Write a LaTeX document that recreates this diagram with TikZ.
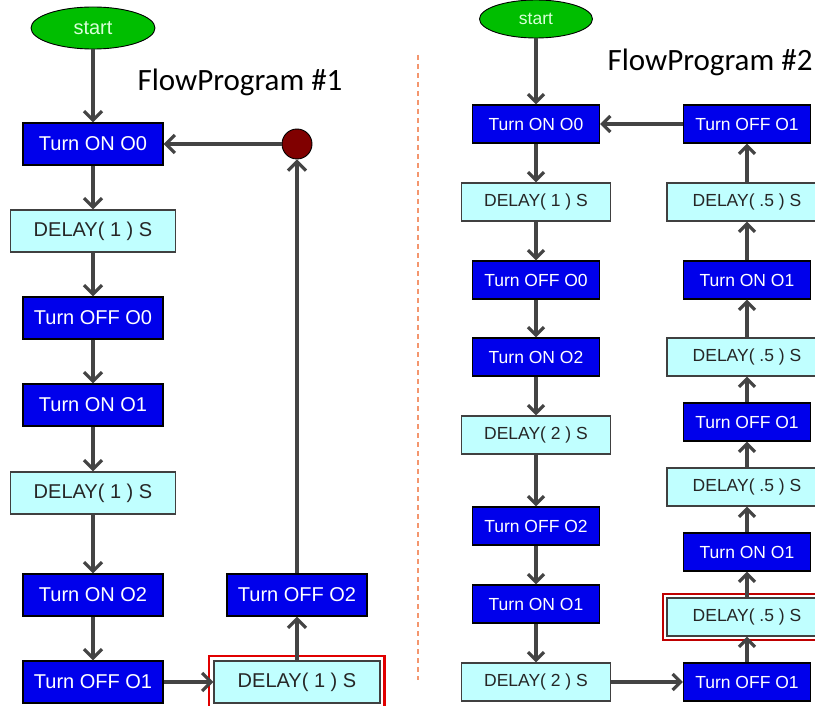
\documentclass[tikz,border=0pt]{standalone}
\usepackage{fontspec}
\setmainfont{Liberation Sans}
\newfontfamily\titlefont{Carlito}
\usetikzlibrary{arrows.meta,calc,shapes.geometric}

\definecolor{boxblue}{RGB}{0,0,235}
\definecolor{boxcyan}{RGB}{192,255,255}
\definecolor{wire}{RGB}{68,68,68}
\definecolor{startgreen}{RGB}{0,190,0}
\definecolor{stopred}{RGB}{128,0,0}
\definecolor{divider}{RGB}{244,150,110}
\definecolor{hilite}{RGB}{225,0,0}

\tikzset{
  act/.style={rectangle, draw=black, line width=1.4pt, fill=boxblue, text=white, inner sep=0pt},
  wait/.style={rectangle, draw=black!75, line width=1.4pt, fill=boxcyan, text=black!85, inner sep=0pt},
  startnode/.style={ellipse, draw=black, line width=0.9pt, fill=startgreen, text=green!15, inner sep=0pt},
  progA/.style={minimum height=42pt, font=\fontsize{20}{23}\selectfont},
  progB/.style={minimum height=38pt, font=\fontsize{17.5}{20}\selectfont},
  flowA/.style={draw=wire, line width=3.2pt, -{Straight Barb[length=9pt,width=18pt]}},
  flowB/.style={draw=wire, line width=3.2pt, -{Straight Barb[length=8pt,width=16pt]}},
  heading/.style={font=\titlefont\fontsize{31}{34}\selectfont, text=black}
}

\begin{document}
\begin{tikzpicture}[x=1pt, y=-1pt]
\clip (0,0) rectangle (815,706);
\fill[white] (0,0) rectangle (815,706);

% ---------------- FlowProgram #1 ----------------
\node[startnode, progA, minimum width=124pt, minimum height=42pt] (a0) at (93,28) {start};
\node[heading] (ta) at (240,82) {FlowProgram \#1};

\node[act,  progA, minimum width=140pt] (a1) at (93,144) {Turn ON O0};
\node[wait, progA, minimum width=165pt] (a2) at (93,231) {DELAY( 1 ) S};
\node[act,  progA, minimum width=140pt] (a3) at (93,318) {Turn OFF O0};
\node[act,  progA, minimum width=140pt] (a4) at (93,405) {Turn ON O1};
\node[wait, progA, minimum width=165pt] (a5) at (93,493) {DELAY( 1 ) S};
\node[act,  progA, minimum width=140pt] (a6) at (93,595) {Turn ON O2};
\node[act,  progA, minimum width=140pt] (a7) at (93,682) {Turn OFF O1};
\node[wait, progA, minimum width=166pt] (a8) at (297,682) {DELAY( 1 ) S};
\node[act,  progA, minimum width=140pt] (a9) at (297,595) {Turn OFF O2};
\node[circle, draw=black, line width=0.9pt, fill=stopred, minimum size=30pt, inner sep=0pt] (aj) at (297,144) {};

\draw[hilite, line width=2.6pt]
  ($(a8.north west)+(-4.5,-4.5)$) rectangle ($(a8.south east)+(3.5,3.5)$);

\draw[flowA] (a0) -- (a1);
\draw[flowA] (a1) -- (a2);
\draw[flowA] (a2) -- (a3);
\draw[flowA] (a3) -- (a4);
\draw[flowA] (a4) -- (a5);
\draw[flowA] (a5) -- (a6);
\draw[flowA] (a6) -- (a7);
\draw[flowA] (a7) -- (a8.west);
\draw[flowA] (a8) -- (a9);
\draw[flowA] (a9) -- (aj);
\draw[flowA] (aj) -- (a1);

% divider between the two programs
\coordinate (dtop) at (418,55);
\coordinate (dbot) at (418,680);
\draw[divider, line width=2pt, dash pattern=on 5pt off 4pt] (dtop) -- (dbot);

% ---------------- FlowProgram #2 ----------------
\node[startnode, progB, minimum width=113pt, minimum height=38pt] (b0) at (536,19) {start};
\node[heading] (tb) at (710,62) {FlowProgram \#2};

\node[act,  progB, minimum width=127pt] (b1) at (536,124) {Turn ON O0};
\node[wait, progB, minimum width=149pt] (b2) at (536,202) {DELAY( 1 ) S};
\node[act,  progB, minimum width=127pt] (b3) at (536,280) {Turn OFF O0};
\node[act,  progB, minimum width=127pt] (b4) at (536,357) {Turn ON O2};
\node[wait, progB, minimum width=149pt] (b5) at (536,435) {DELAY( 2 ) S};
\node[act,  progB, minimum width=127pt] (b6) at (536,526) {Turn OFF O2};
\node[act,  progB, minimum width=127pt] (b7) at (536,604) {Turn ON O1};
\node[wait, progB, minimum width=149pt] (b8) at (536,682) {DELAY( 2 ) S};

\node[act,  progB, minimum width=127pt] (c1) at (747,682) {Turn OFF O1};
\node[wait, progB, minimum width=160pt] (c2) at (747,617) {DELAY( .5 ) S};
\node[act,  progB, minimum width=127pt] (c3) at (747,552) {Turn ON O1};
\node[wait, progB, minimum width=160pt] (c4) at (747,487) {DELAY( .5 ) S};
\node[act,  progB, minimum width=127pt] (c5) at (747,422) {Turn OFF O1};
\node[wait, progB, minimum width=160pt] (c6) at (747,357) {DELAY( .5 ) S};
\node[act,  progB, minimum width=127pt] (c7) at (747,280) {Turn ON O1};
\node[wait, progB, minimum width=160pt] (c8) at (747,202) {DELAY( .5 ) S};
\node[act,  progB, minimum width=127pt] (c9) at (747,124) {Turn OFF O1};

\draw[hilite!85!black, line width=2.4pt]
  ($(c2.north west)+(-3.5,-3.5)$) rectangle ($(c2.south east)+(3.5,3.5)$);

\draw[flowB] (b0) -- (b1);
\draw[flowB] (b1) -- (b2);
\draw[flowB] (b2) -- (b3);
\draw[flowB] (b3) -- (b4);
\draw[flowB] (b4) -- (b5);
\draw[flowB] (b5) -- (b6);
\draw[flowB] (b6) -- (b7);
\draw[flowB] (b7) -- (b8);
\draw[flowB] (b8) -- (c1);
\draw[flowB] (c1) -- (c2);
\draw[flowB] (c2) -- (c3);
\draw[flowB] (c3) -- (c4);
\draw[flowB] (c4) -- (c5);
\draw[flowB] (c5) -- (c6);
\draw[flowB] (c6) -- (c7);
\draw[flowB] (c7) -- (c8);
\draw[flowB] (c8) -- (c9);
\draw[flowB] (c9) -- (b1);
\end{tikzpicture}
\end{document}
